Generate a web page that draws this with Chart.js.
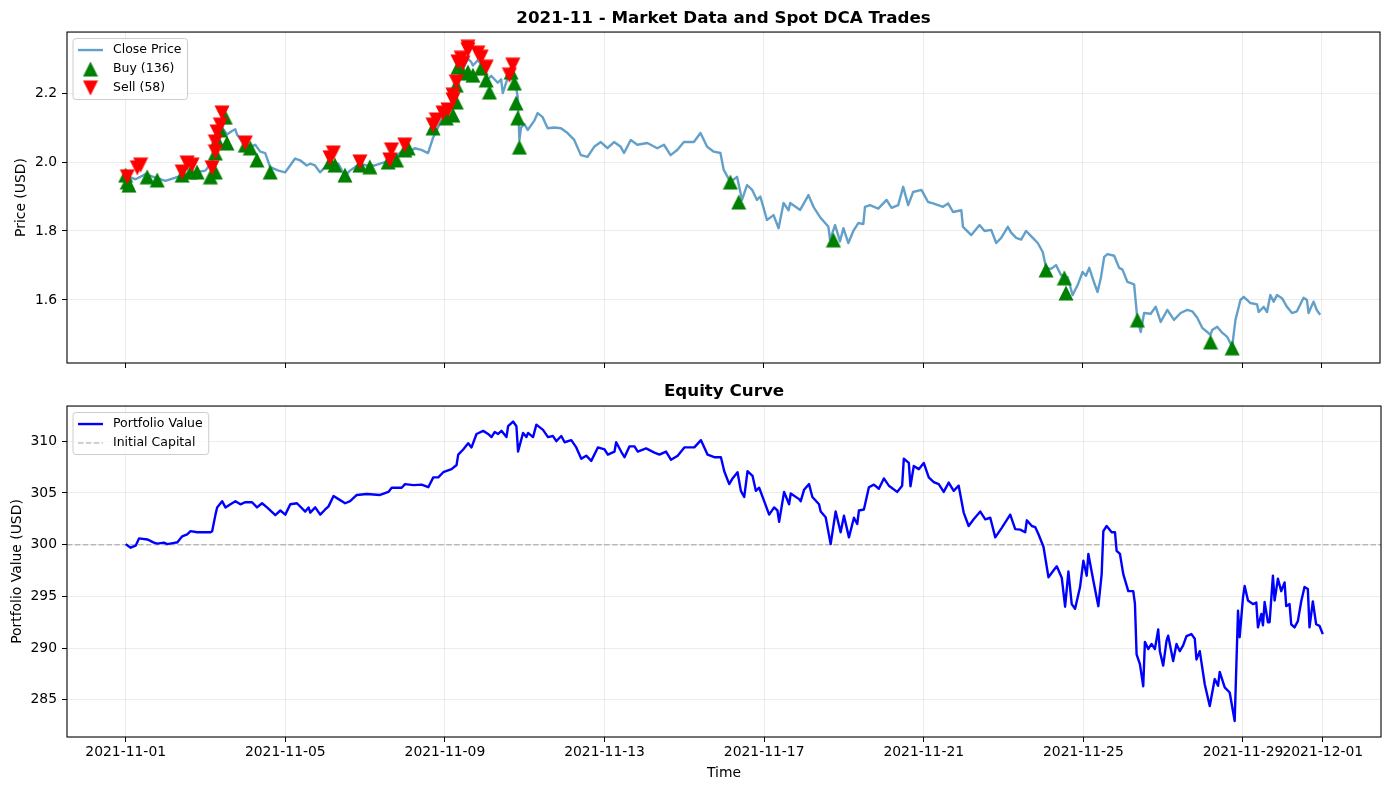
<!DOCTYPE html>
<html>
<head>
<meta charset="utf-8">
<title>2021-11 - Market Data and Spot DCA Trades</title>
<script src="https://cdn.jsdelivr.net/npm/chart.js@4.4.1/dist/chart.umd.min.js"></script>
<style>
  html, body { margin: 0; padding: 0; background: #fff; }
  #wrap { position: relative; width: 1389px; height: 790px; }
  canvas { position: absolute; left: 0; }
  #priceChart { top: 0; }
  #equityChart { top: 375px; }
</style>
</head>
<body>
<div id="wrap">
  <canvas id="priceChart" width="1389" height="385"></canvas>
  <canvas id="equityChart" width="1389" height="415"></canvas>
</div>
<script>
// all x values are hours since 2021-11-01 00:00
const xTickHours = [0, 96, 192, 288, 384, 480, 576, 672, 720];
const xTickLabels = ['2021-11-01', '2021-11-05', '2021-11-09', '2021-11-13', '2021-11-17',
  '2021-11-21', '2021-11-25', '2021-11-29', '2021-12-01'];
const priceTicks = [1.6, 1.8, 2.0, 2.2];
const equityTicks = [285, 290, 295, 300, 305, 310];

const priceHours = [0, 6, 12, 18, 24, 30, 36, 42, 48, 52, 56, 58, 61, 64, 66, 67, 70, 73, 78, 81,
  84, 87, 92, 96, 99, 102, 105, 109, 111, 114, 117, 120, 123, 128, 132, 135, 138, 141, 145, 150,
  156, 162, 166, 170, 174, 178, 182, 185, 188, 191, 194, 197, 200, 202, 204, 206, 208, 209, 212, 214,
  216, 218, 220, 222, 224, 226, 227, 230, 232, 234, 236, 237, 238, 240, 242, 246, 248, 251, 254, 258,
  262, 266, 270, 274, 278, 282, 286, 290, 294, 298, 300, 304, 308, 314, 320, 324, 328, 332, 336, 342,
  346, 350, 354, 358, 360, 364, 368, 371, 374, 377, 380, 382, 386, 390, 393, 396, 399, 400, 406, 411,
  414, 418, 423, 424, 427, 430, 432, 435, 438, 441, 444, 445, 448, 453, 458, 461, 465, 468, 471, 474,
  479, 483, 486, 492, 495, 498, 503, 504, 509, 514, 517, 521, 524, 527, 531, 533, 536, 539, 542, 546,
  549, 552, 554, 557, 560, 563, 567, 570, 573, 576, 578, 580, 583, 585, 587, 589, 591, 595, 598, 600,
  603, 607, 609, 611, 613, 617, 620, 623, 627, 631, 635, 639, 642, 645, 648, 653, 654, 657, 660, 663,
  666, 668, 670, 671, 673, 677, 681, 682, 685, 687, 689, 691, 693, 696, 699, 702, 705, 709, 711, 712,
  715, 717, 719];
const priceValues = [1.96, 1.95, 1.965, 1.955, 1.945, 1.955, 1.965, 1.97, 1.975, 2.0, 2.06, 2.1, 2.08, 2.09, 2.095, 2.08, 2.06, 2.04, 2.05, 2.03,
  2.026, 1.985, 1.975, 1.97, 1.99, 2.01, 2.005, 1.99, 1.995, 1.99, 1.97, 1.985, 2.0, 1.995, 1.96, 1.975, 1.985, 1.995, 1.99, 1.99,
  2.0, 2.015, 2.03, 2.025, 2.04, 2.035, 2.026, 2.07, 2.1, 2.13, 2.15, 2.18, 2.22, 2.26, 2.28, 2.3, 2.29, 2.28, 2.295, 2.285,
  2.26, 2.24, 2.25, 2.24, 2.23, 2.24, 2.2, 2.245, 2.24, 2.24, 2.19, 2.064, 2.1, 2.11, 2.093, 2.12, 2.142, 2.13, 2.098, 2.1,
  2.098, 2.084, 2.064, 2.02, 2.015, 2.044, 2.058, 2.04, 2.058, 2.044, 2.026, 2.064, 2.05, 2.055, 2.04, 2.05, 2.02, 2.035, 2.058, 2.058,
  2.084, 2.044, 2.03, 2.026, 1.977, 1.942, 1.957, 1.89, 1.933, 1.92, 1.89, 1.9, 1.832, 1.846, 1.808, 1.881, 1.86, 1.881, 1.861, 1.904,
  1.87, 1.84, 1.812, 1.774, 1.817, 1.77, 1.808, 1.765, 1.8, 1.823, 1.82, 1.87, 1.875, 1.865, 1.89, 1.867, 1.875, 1.928, 1.875, 1.913,
  1.919, 1.884, 1.88, 1.87, 1.88, 1.855, 1.86, 1.812, 1.788, 1.817, 1.8, 1.803, 1.765, 1.78, 1.812, 1.795, 1.78, 1.775, 1.8, 1.78,
  1.765, 1.739, 1.693, 1.69, 1.701, 1.672, 1.665, 1.614, 1.643, 1.681, 1.67, 1.693, 1.649, 1.623, 1.664, 1.725, 1.733, 1.728, 1.693, 1.688,
  1.652, 1.645, 1.542, 1.507, 1.562, 1.56, 1.58, 1.536, 1.571, 1.542, 1.562, 1.571, 1.567, 1.548, 1.519, 1.499, 1.513, 1.522, 1.505, 1.493,
  1.464, 1.542, 1.58, 1.6, 1.609, 1.591, 1.587, 1.565, 1.58, 1.565, 1.614, 1.595, 1.614, 1.605, 1.58, 1.562, 1.567, 1.606, 1.6, 1.562,
  1.595, 1.57, 1.557];

const buyHours = [0, 1, 2, 13, 19, 34, 39, 43, 51, 54, 54, 55, 57, 60, 61, 72, 75, 79, 87, 123,
  126, 132, 141, 147, 158, 163, 168, 170, 185, 193, 197, 199, 199, 200, 203, 206, 209, 214, 217, 219,
  232, 234, 235, 236, 237, 364, 369, 426, 554, 565, 566, 609, 653, 666];
const buyPrices = [1.962, 1.942, 1.933, 1.957, 1.948, 1.962, 1.971, 1.971, 1.957, 1.971, 2.026, 2.064, 2.093, 2.13, 2.055, 2.049, 2.041, 2.006, 1.971, 2.0,
  1.991, 1.962, 1.991, 1.986, 2.0, 2.006, 2.035, 2.041, 2.099, 2.128, 2.136, 2.174, 2.223, 2.275, 2.258, 2.261, 2.252, 2.272, 2.238, 2.203,
  2.261, 2.229, 2.171, 2.128, 2.043, 1.942, 1.884, 1.774, 1.687, 1.664, 1.62, 1.542, 1.478, 1.461];

const sellHours = [1, 7, 9, 34, 37, 40, 52, 54, 54, 55, 57, 58, 72, 123, 125, 141, 159, 160, 168, 185,
  187, 191, 194, 197, 197, 199, 200, 202, 203, 206, 206, 212, 214, 217, 231, 233];
const sellPrices = [1.957, 1.983, 1.991, 1.971, 1.997, 1.991, 1.983, 2.029, 2.058, 2.087, 2.107, 2.142, 2.055, 2.012, 2.026, 2.0, 2.006, 2.035, 2.049, 2.107,
  2.122, 2.142, 2.151, 2.18, 2.194, 2.232, 2.29, 2.301, 2.287, 2.333, 2.325, 2.316, 2.304, 2.275, 2.252, 2.281];

const equityHours = [0, 3, 6, 8, 13, 17, 19, 23, 25, 30, 31, 34, 37, 39, 43, 47, 51, 52, 54, 55,
  58, 60, 63, 66, 69, 72, 76, 79, 82, 85, 90, 93, 96, 99, 103, 108, 110, 111, 114, 117,
  120, 122, 125, 128, 132, 135, 139, 145, 153, 158, 160, 166, 168, 173, 178, 182, 185, 188, 191, 196,
  199, 200, 203, 206, 208, 211, 215, 218, 220, 222, 224, 226, 229, 230, 233, 235, 236, 239, 241, 242,
  245, 247, 251, 254, 257, 259, 262, 264, 268, 271, 274, 277, 280, 284, 288, 290, 294, 295, 298, 300,
  303, 306, 308, 313, 318, 321, 325, 328, 332, 336, 342, 346, 350, 354, 358, 360, 363, 365, 368, 370,
  372, 374, 377, 379, 381, 384, 387, 390, 392, 393, 396, 399, 400, 405, 406, 408, 411, 413, 417, 418,
  421, 424, 427, 430, 432, 435, 438, 440, 441, 444, 447, 450, 453, 456, 459, 464, 467, 468, 471, 472,
  474, 477, 480, 483, 486, 489, 492, 495, 498, 501, 504, 507, 510, 514, 517, 520, 523, 527, 532, 535,
  538, 541, 542, 545, 547, 549, 552, 555, 558, 560, 563, 565, 567, 569, 571, 574, 576, 578, 579, 582,
  585, 587, 588, 590, 593, 595, 596, 598, 600, 603, 606, 607, 608, 610, 612, 613, 615, 617, 619, 621,
  622, 624, 626, 627, 630, 632, 634, 636, 638, 641, 643, 644, 646, 649, 652, 655, 657, 658, 661, 664,
  667, 669, 670, 672, 673, 675, 678, 680, 681, 683, 684, 685, 687, 688, 690, 691, 693, 695, 697, 698,
  700, 701, 703, 705, 707, 709, 711, 712, 714, 716, 718, 720];
const equityValues = [300.05, 299.7, 299.9, 300.6, 300.5, 300.2, 300.1, 300.2, 300.05, 300.2, 300.2, 300.8, 301.0, 301.3, 301.2, 301.2, 301.2, 301.3, 302.9, 303.6,
  304.2, 303.6, 303.9, 304.2, 303.9, 304.1, 304.1, 303.6, 304.0, 303.6, 302.85, 303.3, 302.9, 303.9, 304.0, 303.2, 303.6, 303.1, 303.6, 302.9,
  303.4, 303.7, 304.7, 304.4, 304.0, 304.2, 304.8, 304.9, 304.8, 305.1, 305.5, 305.5, 305.85, 305.75, 305.8, 305.55, 306.5, 306.5, 307.0, 307.3,
  307.7, 308.7, 309.2, 309.8, 309.4, 310.7, 311.0, 310.7, 310.4, 310.9, 310.7, 311.0, 310.4, 311.45, 311.9, 311.45, 309.0, 310.8, 310.4, 310.8,
  310.4, 311.6, 311.1, 310.4, 310.5, 310.0, 310.5, 309.9, 310.1, 309.4, 308.3, 308.6, 308.1, 309.4, 309.2, 308.7, 309.0, 309.9, 309.0, 308.45,
  309.5, 309.5, 309.0, 309.3, 308.9, 308.7, 309.0, 308.2, 308.6, 309.4, 309.4, 310.1, 308.7, 308.45, 308.45, 307.1, 305.85, 306.4, 307.0, 305.2,
  304.6, 307.1, 306.65, 305.2, 305.5, 304.2, 302.9, 303.6, 303.3, 302.2, 305.1, 303.9, 304.95, 304.4, 304.2, 305.3, 305.85, 304.6, 303.9, 303.2,
  302.65, 300.05, 303.2, 301.2, 302.8, 300.7, 302.6, 302.0, 303.3, 303.4, 305.55, 305.8, 305.4, 306.4, 305.7, 305.1, 305.7, 308.3, 307.9, 305.65,
  307.6, 307.3, 307.9, 306.5, 306.05, 305.85, 305.1, 306.0, 305.2, 305.7, 303.1, 301.8, 302.45, 303.2, 302.45, 302.6, 300.7, 301.65, 302.9, 301.5,
  301.45, 301.2, 302.35, 301.8, 301.7, 301.0, 299.8, 296.85, 297.5, 297.9, 296.8, 294.0, 297.4, 294.25, 293.8, 295.9, 298.45, 297.0, 299.1, 296.5,
  294.05, 297.15, 301.3, 301.8, 301.2, 301.2, 299.4, 299.1, 297.15, 295.5, 295.5, 294.3, 289.4, 288.45, 286.3, 290.6, 289.9, 290.4, 289.9, 291.8,
  289.7, 288.3, 290.7, 291.2, 288.75, 290.4, 289.7, 290.25, 291.15, 291.35, 290.9, 288.9, 289.7, 286.5, 284.4, 287.0, 286.35, 287.7, 286.2, 285.7,
  282.95, 293.6, 291.05, 294.9, 296.0, 294.6, 294.25, 294.4, 292.0, 293.3, 292.2, 294.45, 292.5, 292.5, 297.0, 294.6, 296.7, 295.5, 296.35, 294.05,
  294.25, 292.3, 292.0, 292.6, 294.5, 295.9, 295.7, 292.0, 294.5, 292.3, 292.15, 291.35];
const initialCapital = 300;

const xMin = -35.3, xMax = 755;
const gridColor = 'rgba(176,176,176,0.3)';
const tickFont = { family: 'DejaVu Sans', size: 13.9 };

Chart.defaults.font.family = 'DejaVu Sans';
Chart.defaults.color = '#000';

const pts = (xs, ys) => xs.map((x, i) => ({ x: x, y: ys[i] }));

// matplotlib-like triangle markers (bbox centred on the value)
function triangle(up, color) {
  const c = document.createElement('canvas');
  c.width = 16; c.height = 16;
  const g = c.getContext('2d');
  g.fillStyle = color;
  g.beginPath();
  if (up) { g.moveTo(8, 0.5); g.lineTo(15.5, 15.5); g.lineTo(0.5, 15.5); }
  else { g.moveTo(0.5, 0.5); g.lineTo(15.5, 0.5); g.lineTo(8, 15.5); }
  g.closePath();
  g.fill();
  return c;
}
const buyMarker = triangle(true, '#008000');
const sellMarker = triangle(false, '#ff0000');

const frame = {
  id: 'frame',
  afterDatasetsDraw(chart) {
    const { ctx, chartArea: a } = chart;
    ctx.save();
    ctx.strokeStyle = '#000';
    ctx.lineWidth = 1.1;
    ctx.strokeRect(a.left, a.top, a.right - a.left, a.bottom - a.top);
    ctx.restore();
  }
};

// legend box inside the axes, upper left
const boxLegend = {
  id: 'boxLegend',
  afterDraw(chart) {
    const ctx = chart.ctx, a = chart.chartArea;
    const sets = chart.data.datasets.filter(d => d.label);
    ctx.save();
    ctx.font = '12.5px "DejaVu Sans"';
    const textW = Math.max(...sets.map(d => ctx.measureText(d.label).width));
    const x0 = a.left + 6, y0 = a.top + 6.5;
    const w = 5 + 25 + 10 + textW + 6;
    const h = 23 + 19 * (sets.length - 1);
    const r = 3;
    ctx.beginPath();
    ctx.moveTo(x0 + r, y0);
    ctx.arcTo(x0 + w, y0, x0 + w, y0 + h, r);
    ctx.arcTo(x0 + w, y0 + h, x0, y0 + h, r);
    ctx.arcTo(x0, y0 + h, x0, y0, r);
    ctx.arcTo(x0, y0, x0 + w, y0, r);
    ctx.closePath();
    ctx.fillStyle = 'rgba(255,255,255,0.8)';
    ctx.fill();
    ctx.strokeStyle = '#cccccc';
    ctx.lineWidth = 1;
    ctx.stroke();
    sets.forEach((d, i) => {
      const cy = y0 + 11.5 + 19 * i;
      const hx = x0 + 5;
      if (d.showLine === false) {
        ctx.drawImage(d.pointStyle, hx + 12.5 - 8, cy - 8);
      } else {
        ctx.beginPath();
        ctx.setLineDash(d.borderDash || []);
        ctx.strokeStyle = d.borderColor;
        ctx.lineWidth = d.borderWidth;
        ctx.moveTo(hx, cy);
        ctx.lineTo(hx + 25, cy);
        ctx.stroke();
        ctx.setLineDash([]);
      }
      ctx.fillStyle = '#000';
      ctx.textBaseline = 'middle';
      ctx.fillText(d.label, hx + 35, cy);
    });
    ctx.restore();
  }
};

function xScale(showLabels, height) {
  return {
    type: 'linear', min: xMin, max: xMax,
    afterBuildTicks: s => { s.ticks = xTickHours.map(v => ({ value: v })); },
    afterFit: s => { s.height = height; },
    grid: { color: gridColor, lineWidth: 0.8, tickColor: '#000', tickLength: 5, tickWidth: 1 },
    border: { display: false },
    ticks: {
      display: showLabels, autoSkip: false, maxRotation: 0, minRotation: 0, padding: 2,
      color: '#000', font: tickFont, callback: (v, i) => xTickLabels[i]
    },
    title: { display: showLabels, text: 'Time', font: tickFont, padding: { top: 0, bottom: 8 } }
  };
}

function yScale(min, max, ticks, fmt, title, titlePad) {
  return {
    min: min, max: max,
    afterBuildTicks: s => { s.ticks = ticks.map(v => ({ value: v })); },
    afterFit: s => { s.width = 67; },
    grid: { color: gridColor, lineWidth: 0.8, tickColor: '#000', tickLength: 5, tickWidth: 1 },
    border: { display: false },
    ticks: { padding: 5, color: '#000', font: tickFont, callback: fmt },
    title: { display: true, text: title, font: tickFont, padding: { top: titlePad, bottom: 0 } }
  };
}

new Chart(document.getElementById('priceChart'), {
  type: 'line',
  data: {
    datasets: [{
      label: 'Close Price',
      data: pts(priceHours, priceValues),
      borderColor: 'rgba(31,119,180,0.7)',
      borderWidth: 2.4,
      borderJoinStyle: 'round',
      pointRadius: 0,
      tension: 0,
      order: 3
    }, {
      label: 'Buy (136)',
      data: pts(buyHours, buyPrices),
      showLine: false,
      pointStyle: buyMarker,
      pointRadius: 8,
      order: 2
    }, {
      label: 'Sell (58)',
      data: pts(sellHours, sellPrices),
      showLine: false,
      pointStyle: sellMarker,
      pointRadius: 8,
      order: 1
    }]
  },
  options: {
    responsive: false,
    devicePixelRatio: 1,
    animation: false,
    events: [],
    layout: { padding: { left: 0, right: 8, top: 0, bottom: 0 } },
    scales: {
      x: xScale(false, 22),
      y: yScale(1.417, 2.377, priceTicks, v => v.toFixed(1), 'Price (USD)', 13)
    },
    plugins: {
      legend: { display: false },
      tooltip: { enabled: false },
      title: {
        display: true, fullSize: false,
        text: '2021-11 - Market Data and Spot DCA Trades',
        font: { size: 16.7, weight: 'bold', lineHeight: 1.2 },
        padding: { top: 9, bottom: 3 }
      }
    }
  },
  plugins: [frame, boxLegend]
});

new Chart(document.getElementById('equityChart'), {
  type: 'line',
  data: {
    datasets: [{
      label: 'Portfolio Value',
      data: pts(equityHours, equityValues),
      borderColor: '#0000ff',
      borderWidth: 2.4,
      borderJoinStyle: 'round',
      pointRadius: 0,
      tension: 0,
      order: 1
    }, {
      label: 'Initial Capital',
      data: pts([xMin, xMax], [initialCapital, initialCapital]),
      borderColor: 'rgba(128,128,128,0.5)',
      borderWidth: 1.5,
      borderDash: [5.5, 2.4],
      pointRadius: 0,
      order: 2
    }]
  },
  options: {
    responsive: false,
    devicePixelRatio: 1,
    animation: false,
    events: [],
    layout: { padding: { left: 0, right: 8, top: 0, bottom: 0 } },
    scales: {
      x: xScale(true, 53),
      y: yScale(281.4, 313.4, equityTicks, v => String(v), 'Portfolio Value (USD)', 9)
    },
    plugins: {
      legend: { display: false },
      tooltip: { enabled: false },
      title: {
        display: true, fullSize: false,
        text: 'Equity Curve',
        font: { size: 16.7, weight: 'bold', lineHeight: 1.2 },
        padding: { top: 7, bottom: 4 }
      }
    }
  },
  plugins: [frame, boxLegend]
});
</script>
</body>
</html>
